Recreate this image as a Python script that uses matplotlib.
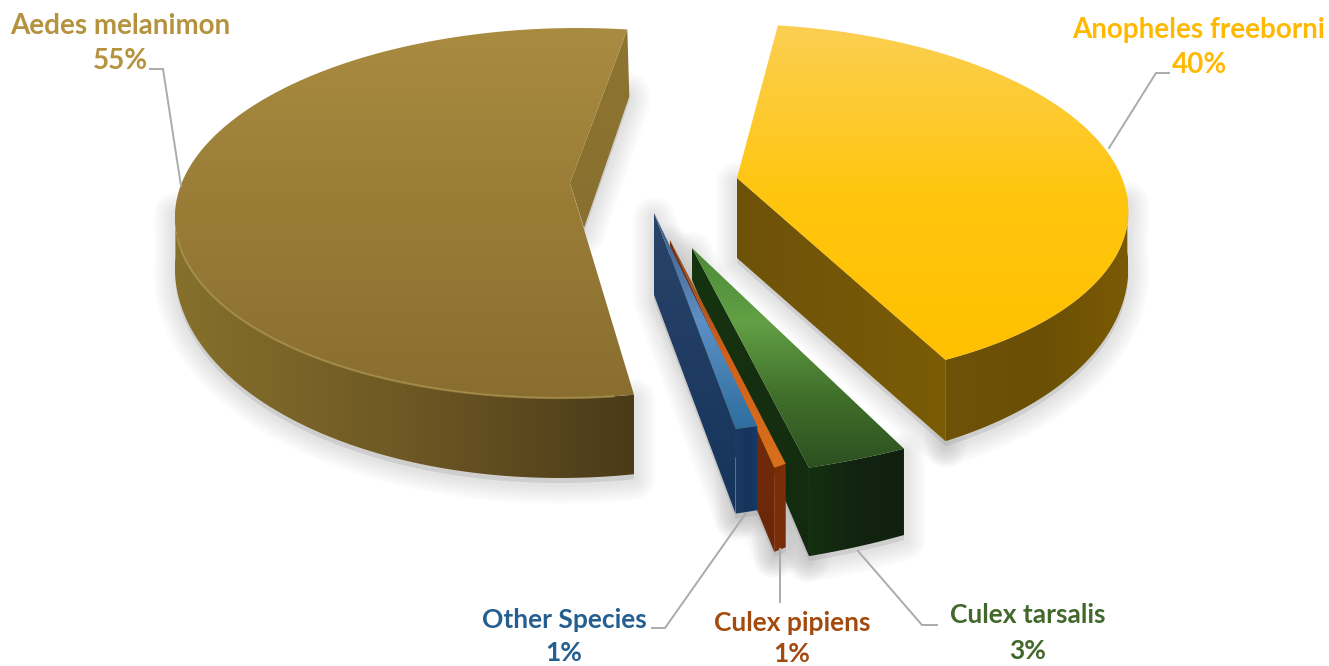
# Exploded 3D pie of mosquito species share
import numpy as np
import matplotlib
matplotlib.use('Agg')
import matplotlib.pyplot as plt
from matplotlib.colors import LinearSegmentedColormap
from matplotlib.patches import Polygon

# Data
species = ['Anopheles freeborni', 'Culex tarsalis', 'Culex pipiens', 'Other Species', 'Aedes melanimon']
shares = [40, 3, 1, 1, 55]
textColors = ['#FFB900', '#43682B', '#A34A0E', '#255E91', '#B5923E']
textSizes = [20, 19, 19, 19, 20]

startAngle = 7.2 # clockwise from the back of the pie

# View of each slice: apex, radii, rim offset, shear, wall drop at side and front, drop under the apex
views = {
	'Anopheles freeborni': dict(apex=(737, 178), rx=381, ry=179, ox=10, oy=25, s=17, t0=55, t1=30, cutDrop=80),
	'Culex tarsalis': dict(apex=(692, 248), rx=550, ry=253, ox=-53, oy=-21, s=0, t0=60, t1=30, cutDrop=32),
	'Culex pipiens': dict(apex=(670, 240), rx=190, ry=230, ox=57, oy=5, s=0, t0=55, t1=30, cutDrop=58),
	'Other Species': dict(apex=(654, 213), rx=355, ry=220, ox=15, oy=0, s=0, t0=55, t1=30, cutDrop=82),
	'Aedes melanimon': dict(apex=(570, 183), rx=394, ry=185, ox=-1, oy=30, s=-9, t0=50, t1=30, cutDrop=45),
}

# top colors run back to front, wall colors left to right
topColors = {
	'Anopheles freeborni': ['#FBCF52', '#FFC60F', '#FFC000'],
	'Culex tarsalis': ['#4C8A38', '#62A045', '#41702B', '#2C5020'],
	'Culex pipiens': ['#8A4A20', '#D0601A', '#D8701C'],
	'Other Species': ['#3C5A80', '#5C90C6', '#2E6E9E'],
	'Aedes melanimon': ['#A98C40', '#987C36', '#8A6E30'],
}
wallColors = {
	'Anopheles freeborni': ['#6E5208', '#6A4F04', '#7A5A04'],
	'Culex tarsalis': ['#14300F', '#122410', '#102010'],
	'Culex pipiens': ['#7A2E08', '#7A2E08'],
	'Other Species': ['#1E3A62', '#15335C', '#173A68'],
	'Aedes melanimon': ['#86702C', '#6E5824', '#4A3A18'],
}
cutColors = {
	'Anopheles freeborni': ['#6E5208', '#7A5C06'],
	'Culex tarsalis': ['#16340F', '#132A10'],
	'Culex pipiens': ['#7A2E08', '#6A2808'],
	'Other Species': ['#2A4468', '#15335C'],
	'Aedes melanimon': ['#8D7430', '#8A7030'],
}

# Labels and leaders
labelPos = {
	'Anopheles freeborni': ((1199, 30), (1200, 65)),
	'Culex tarsalis': ((1028, 615), (1028, 651)),
	'Culex pipiens': ((792, 623), (792, 654)),
	'Other Species': ((564, 620), (564, 653)),
	'Aedes melanimon': ((120, 26), (120, 61)),
}
leaders = {
	'Anopheles freeborni': [(1169, 73), (1156, 73), (1109, 148)],
	'Culex tarsalis': [(858, 551), (922, 625), (937, 625)],
	'Culex pipiens': [(780, 549), (780, 602)],
	'Other Species': [(652, 628), (665, 628), (746, 513)],
	'Aedes melanimon': [(150, 69), (163, 69), (181, 186)],
}

plt.rcParams['font.family'] = ['Lato', 'DejaVu Sans']

fig = plt.figure(figsize=(13.29, 6.66), dpi=100)
ax = fig.add_axes([0, 0, 1, 1])
ax.set_xlim(0, 1329)
ax.set_ylim(666, 0)
ax.axis('off')


def rim(view, theta):
	# theta in degrees, clockwise from back
	t = np.radians(theta)
	x = view['apex'][0] + view['rx']*np.sin(t) + view['ox'] - view['s']*np.cos(t)
	y = view['apex'][1] - view['ry']*np.cos(t) + view['oy']
	return np.column_stack((x, y))


def drop(view, theta):
	return view['t0'] - view['t1']*np.cos(np.radians(theta))


def gradFill(pts, colors, horizontal=False, z=2):
	pts = np.asarray(pts)
	cmap = LinearSegmentedColormap.from_list('g', colors)
	g = np.linspace(0, 1, 256)
	g = g.reshape(1, -1) if horizontal else g.reshape(-1, 1)
	x0, x1 = pts[:, 0].min(), pts[:, 0].max()
	y0, y1 = pts[:, 1].min(), pts[:, 1].max()
	im = ax.imshow(g, cmap=cmap, extent=(x0, x1, y1, y0), origin='upper', aspect='auto', zorder=z, interpolation='bilinear')
	clip = Polygon(pts, closed=True, transform=ax.transData, facecolor='none', edgecolor='none')
	ax.add_patch(clip)
	im.set_clip_path(clip)


def softShadow(pts, z=1):
	pts = np.asarray(pts) + np.array([0, 5])
	for lw in range(30, 2, -4):
		ax.add_patch(Polygon(pts, closed=True, facecolor='#9A9A9A', edgecolor='#9A9A9A', alpha=0.04,
			lw=lw, joinstyle='round', zorder=z))


# Slice angles come from the shares
edges = startAngle + np.cumsum([0] + shares)*3.6

# Draw order, back slices first and the thin ones overlapping from the right
order = ['Aedes melanimon', 'Anopheles freeborni', 'Culex tarsalis', 'Culex pipiens', 'Other Species']
for name in order:
	i = species.index(name)
	view = views[name]
	a0, a1 = edges[i], edges[i+1]
	apex = np.array(view['apex'], dtype=float)
	thetas = np.linspace(a0, a1, 200)
	arc = rim(view, thetas)
	z = 3 + order.index(name)*2

	if name == 'Aedes melanimon':
		wallT = thetas[thetas <= 272]
	elif name == 'Anopheles freeborni':
		wallT = thetas[(thetas >= 88)]
	else:
		wallT = thetas
	wallTop = rim(view, wallT)
	wallBottom = wallTop + np.column_stack((0*wallT, drop(view, wallT)))
	wall = np.vstack((wallTop, wallBottom[::-1]))
	softShadow(wall)

	# cut face
	if name == 'Aedes melanimon':
		# back cut shows behind the top
		backTop = rim(view, np.array([a1]))[0]
		cut = [backTop, backTop + (2, 67), apex + (14, view['cutDrop']), apex]
		softShadow([backTop + (2, 60), backTop + (2, 67), apex + (14, view['cutDrop']), apex + (14, 40)])
		gradFill(cut, cutColors[name], z=z)
	elif name == 'Anopheles freeborni':
		frontTop = rim(view, np.array([a1]))[0]
		cut = [apex, apex + (0, view['cutDrop']), frontTop + (0, drop(view, a1)), frontTop]
		softShadow(cut)
		gradFill(cut, cutColors[name], horizontal=True, z=z)
	else:
		# left cut of the thin slices, drawn after the right ones
		backTop = rim(view, np.array([a1]))[0]
		cut = [apex, apex + (0, view['cutDrop']), backTop + (0, drop(view, a1)), backTop]
		softShadow(cut)
		gradFill(cut, cutColors[name], z=z)

	gradFill(wall, wallColors[name], horizontal=True, z=z)
	top = np.vstack((apex, arc))
	gradFill(top, topColors[name], z=z+1)

	# rounded lip along the front of the big slices
	if name == 'Aedes melanimon':
		lip = rim(view, thetas[(thetas >= a0 + 2) & (thetas <= 262)])
		ax.plot(lip[:, 0], lip[:, 1], color='#A8924E', lw=1.6, alpha=0.7, zorder=z+1, solid_capstyle='round')

# Labels
for i, name in enumerate(species):
	(nx, ny), (px, py) = labelPos[name]
	ax.text(nx, ny, name, color=textColors[i], fontsize=textSizes[i], fontweight='bold', ha='center', va='center', zorder=20)
	ax.text(px, py, '%d%%' % shares[i], color=textColors[i], fontsize=textSizes[i], fontweight='bold', ha='center', va='center', zorder=20)
	line = np.array(leaders[name])
	ax.plot(line[:, 0], line[:, 1], color='#A9ABAD', lw=1.4, zorder=15, solid_joinstyle='miter')

ax.set_xlim(0, 1329)
ax.set_ylim(666, 0)
fig.savefig('out.png', dpi=100, facecolor='white')
